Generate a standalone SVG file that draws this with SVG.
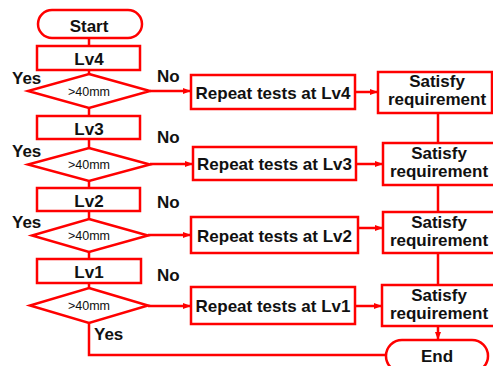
<svg xmlns="http://www.w3.org/2000/svg" width="493" height="366" viewBox="0 0 493 366">
<style>
.s{fill:#fff;stroke:#ff0000;stroke-width:2.5}
.l{fill:none;stroke:#ff0000;stroke-width:2.5}
.t{font-family:"Liberation Sans",Arial,sans-serif;font-weight:bold;font-size:17px;fill:#111;text-anchor:middle}
.lb{font-family:"Liberation Sans",Arial,sans-serif;font-weight:bold;font-size:17px;fill:#111}
.d{font-family:"Liberation Sans",Arial,sans-serif;font-size:12.5px;fill:#111;text-anchor:middle}
</style>
<defs>
<marker id="a" markerWidth="8" markerHeight="8" refX="7" refY="4" orient="auto" markerUnits="userSpaceOnUse">
<path d="M0,1 L8,4 L0,7 Z" fill="#ff0000"/>
</marker>
</defs>
<g id="connectors">
<path class="l" d="M89,39 V46"/>
<path class="l" d="M89,70 V74"/>
<path class="l" d="M89,108 V116"/>
<path class="l" d="M89,139 V148"/>
<path class="l" d="M89,181 V188"/>
<path class="l" d="M89,211 V219"/>
<path class="l" d="M89,252 V259"/>
<path class="l" d="M89,283 V288"/>
<path class="l" d="M89,323 V355 H386"/>
<path class="l" d="M150,91 H190" marker-end="url(#a)"/>
<path class="l" d="M150,164 H192" marker-end="url(#a)"/>
<path class="l" d="M148,235 H190" marker-end="url(#a)"/>
<path class="l" d="M148,306 H190" marker-end="url(#a)"/>
<path class="l" d="M355,92 H377" marker-end="url(#a)"/>
<path class="l" d="M356,164 H382" marker-end="url(#a)"/>
<path class="l" d="M358,228 H382" marker-end="url(#a)"/>
<path class="l" d="M355,306 H381" marker-end="url(#a)"/>
<path class="l" d="M438,113 V143"/>
<path class="l" d="M438,185 V212"/>
<path class="l" d="M438,253 V285"/>
<path class="l" d="M438,326 V339" marker-end="url(#a)"/>
</g>
<g id="start"><rect class="s" x="38" y="10" width="104" height="28" rx="14"/><text class="t" x="89" y="32">Start</text></g>
<g id="lv4"><rect class="s" x="37" y="46" width="103" height="24"/><text class="t" x="89" y="65">Lv4</text></g>
<g id="d4"><polygon class="s" points="89,74 150,91 89,108 28,91"/><text class="d" x="89" y="96">&gt;40mm</text></g>
<g id="lv3"><rect class="s" x="37" y="116" width="103" height="23"/><text class="t" x="89" y="135">Lv3</text></g>
<g id="d3"><polygon class="s" points="89,148 150,164.5 89,181 28,164.5"/><text class="d" x="89" y="169">&gt;40mm</text></g>
<g id="lv2"><rect class="s" x="37" y="188" width="103" height="23"/><text class="t" x="89" y="207">Lv2</text></g>
<g id="d2"><polygon class="s" points="89,219 148,235.5 89,252 32,235.5"/><text class="d" x="89" y="240">&gt;40mm</text></g>
<g id="lv1"><rect class="s" x="37" y="259" width="104" height="24"/><text class="t" x="89" y="278">Lv1</text></g>
<g id="d1"><polygon class="s" points="89,288 148,305.5 89,323 30,305.5"/><text class="d" x="89" y="310">&gt;40mm</text></g>
<g id="r4"><rect class="s" x="191" y="75" width="164" height="34"/><text class="t" x="273" y="99">Repeat tests at Lv4</text></g>
<g id="r3"><rect class="s" x="193" y="147" width="163" height="33"/><text class="t" x="274.5" y="170">Repeat tests at Lv3</text></g>
<g id="r2"><rect class="s" x="191" y="217" width="167" height="36"/><text class="t" x="274.5" y="242">Repeat tests at Lv2</text></g>
<g id="r1"><rect class="s" x="191" y="287" width="164" height="37"/><text class="t" x="273" y="312">Repeat tests at Lv1</text></g>
<g id="s4"><rect class="s" x="378" y="72" width="114" height="41"/><text class="t" x="437" y="87">Satisfy</text><text class="t" x="437" y="105">requirement</text></g>
<g id="s3"><rect class="s" x="383" y="143" width="112" height="42"/><text class="t" x="439" y="158.5">Satisfy</text><text class="t" x="439" y="176.5">requirement</text></g>
<g id="s2"><rect class="s" x="383" y="212" width="112" height="41"/><text class="t" x="439" y="227.5">Satisfy</text><text class="t" x="439" y="245.5">requirement</text></g>
<g id="s1"><rect class="s" x="382" y="285" width="113" height="41"/><text class="t" x="439" y="300.5">Satisfy</text><text class="t" x="439" y="318.5">requirement</text></g>
<g id="end"><rect class="s" x="386" y="340" width="102" height="32" rx="16"/><text class="t" x="437" y="362">End</text></g>
<g id="labels">
<text class="lb" x="12" y="84">Yes</text>
<text class="lb" x="157" y="82">No</text>
<text class="lb" x="12" y="157">Yes</text>
<text class="lb" x="157" y="143">No</text>
<text class="lb" x="12" y="228">Yes</text>
<text class="lb" x="157" y="208">No</text>
<text class="lb" x="157" y="281">No</text>
<text class="lb" x="94" y="340">Yes</text>
</g>
</svg>
